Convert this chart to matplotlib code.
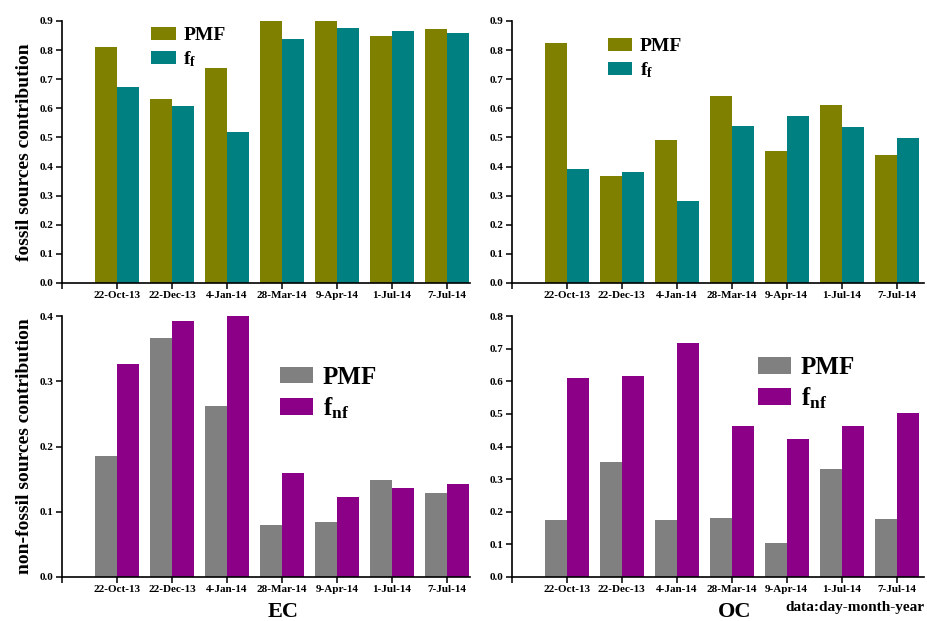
import matplotlib
matplotlib.use("Agg")
import matplotlib.pyplot as plt
import numpy as np

dates = ["22-Oct-13", "22-Dec-13", "4-Jan-14", "28-Mar-14", "9-Apr-14", "1-Jul-14", "7-Jul-14"]

# fossil fractions
ec_pmf_fossil = [0.812, 0.632, 0.737, 0.90, 0.90, 0.849, 0.872]
ec_ff = [0.673, 0.607, 0.517, 0.839, 0.875, 0.864, 0.858]
oc_pmf_fossil = [0.823, 0.367, 0.490, 0.643, 0.454, 0.610, 0.439]
oc_ff = [0.390, 0.382, 0.283, 0.538, 0.575, 0.536, 0.497]

# non-fossil fractions
ec_pmf_nonfossil = [0.185, 0.366, 0.262, 0.079, 0.084, 0.149, 0.129]
ec_fnf = [0.327, 0.392, 0.400, 0.159, 0.123, 0.136, 0.142]
oc_pmf_nonfossil = [0.174, 0.353, 0.174, 0.182, 0.104, 0.332, 0.177]
oc_fnf = [0.610, 0.615, 0.716, 0.462, 0.424, 0.462, 0.502]

plt.rcParams["font.family"] = ["Liberation Serif", "DejaVu Serif"]
plt.rcParams["font.weight"] = "bold"
plt.rcParams["mathtext.fontset"] = "custom"
plt.rcParams["mathtext.rm"] = "Liberation Serif:bold"
plt.rcParams["mathtext.bf"] = "Liberation Serif:bold"
plt.rcParams["mathtext.it"] = "Liberation Serif:bold"

OLIVE = "#808000"
TEAL = "#008080"
GRAY = "#808080"
PURPLE = "#8c0088"

W, H = 927, 621
fig = plt.figure(figsize=(W / 100, H / 100), dpi=100)


def px_axes(left, top, right, bottom):
    return fig.add_axes([left / W, 1 - bottom / H, (right - left) / W, (bottom - top) / H])


def draw_panel(ax, pmf, frac, c1, c2, ymax, xmax, sub, leg_anchor, leg_size, hl, hh):
    x = np.arange(1, len(dates) + 1)
    w = 0.4
    b1 = ax.bar(x - w / 2, pmf, width=w, color=c1, label="PMF")
    b2 = ax.bar(x + w / 2, frac, width=w, color=c2, label=r"$\mathrm{f}_{\mathrm{" + sub + "}}$")
    ax.set_xlim(0, xmax)
    ax.set_ylim(0, ymax)
    yt = np.arange(0, ymax + 1e-9, 0.1)
    ax.set_yticks(yt)
    ax.set_yticklabels([f"{v:.1f}" for v in yt], fontsize=8, fontweight="bold")
    ax.set_xticks(np.arange(0, len(dates) + 1))
    ax.set_xticklabels([""] + dates, fontsize=8, fontweight="bold")
    for s in ("top", "right"):
        ax.spines[s].set_visible(False)
    for s in ("left", "bottom"):
        ax.spines[s].set_linewidth(1.2)
    ax.tick_params(direction="out", length=4, width=1.1, pad=2)
    ax.legend(handles=[b1, b2], loc="upper left", bbox_to_anchor=leg_anchor, frameon=False,
              prop={"size": leg_size, "weight": "bold"}, handlelength=hl, handleheight=hh,
              handletextpad=0.4, labelspacing=0.25, borderaxespad=0)


ax1 = px_axes(62, 21, 470, 283)
draw_panel(ax1, ec_pmf_fossil, ec_ff, OLIVE, TEAL, 0.9, 7.42, "f", (0.20, 1.005), 14, 1.25, 0.6)
ax1.set_ylabel("fossil sources contribution", fontsize=14, fontweight="bold", labelpad=5)

ax2 = px_axes(512, 21, 924, 283)
draw_panel(ax2, oc_pmf_fossil, oc_ff, OLIVE, TEAL, 0.9, 7.5, "f", (0.213, 0.963), 14, 1.25, 0.6)

ax3 = px_axes(62, 316, 470, 577)
draw_panel(ax3, ec_pmf_nonfossil, ec_fnf, GRAY, PURPLE, 0.4, 7.42, "nf", (0.51, 0.847), 18, 1.3, 0.65)
ax3.set_ylabel("non-fossil sources contribution", fontsize=14, fontweight="bold", labelpad=5)

ax4 = px_axes(512, 316, 924, 577)
draw_panel(ax4, oc_pmf_nonfossil, oc_fnf, GRAY, PURPLE, 0.8, 7.5, "nf", (0.573, 0.884), 18, 1.3, 0.65)

fig.text(283 / W, 1 - 612 / H, "EC", fontsize=16, fontweight="bold", ha="center", va="center")
fig.text(735 / W, 1 - 612 / H, "OC", fontsize=16, fontweight="bold", ha="center", va="center")
fig.text(925 / W, 1 - 608 / H, "data:day-month-year", fontsize=11, fontweight="bold", ha="right", va="center")

fig.savefig("out.png", dpi=100)
